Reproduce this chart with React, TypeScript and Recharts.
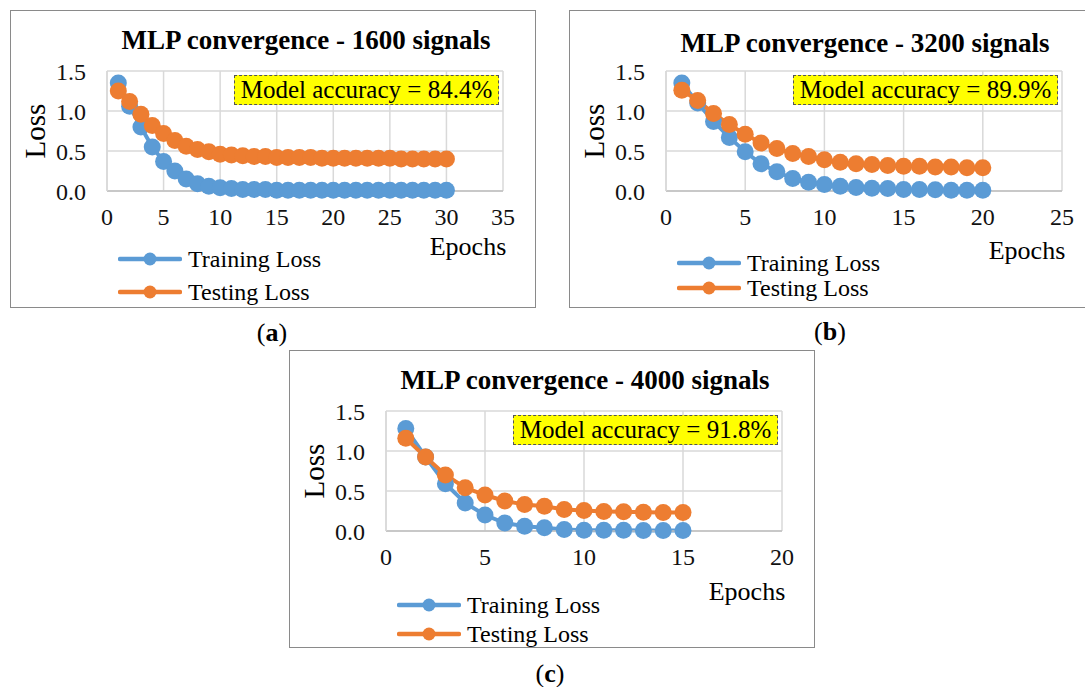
import React from "react";
import { LineChart, Line, XAxis, YAxis, CartesianGrid } from "recharts";

const FONT = '"Liberation Serif", "Times New Roman", Times, serif';
const BLUE = "#5B9BD5";
const ORANGE = "#ED7D31";

// ---- data ----
const epochsA = [1,2,3,4,5,6,7,8,9,10,11,12,13,14,15,16,17,18,19,20,21,22,23,24,25,26,27,28,29,30];
const trainA = [1.35,1.06,0.8,0.55,0.37,0.25,0.15,0.09,0.06,0.04,0.03,0.02,0.02,0.02,0.01,0.01,0.01,0.01,0.01,0.01,0.01,0.01,0.01,0.01,0.01,0.01,0.01,0.01,0.01,0.01];
const testA = [1.25,1.12,0.96,0.82,0.72,0.63,0.56,0.52,0.49,0.46,0.45,0.44,0.43,0.43,0.42,0.42,0.42,0.42,0.41,0.41,0.41,0.41,0.41,0.41,0.41,0.4,0.4,0.4,0.4,0.4];

const epochsB = [1,2,3,4,5,6,7,8,9,10,11,12,13,14,15,16,17,18,19,20];
const trainB = [1.35,1.1,0.87,0.67,0.49,0.34,0.24,0.155,0.11,0.08,0.06,0.045,0.035,0.03,0.02,0.02,0.015,0.01,0.01,0.01];
const testB = [1.26,1.13,0.97,0.83,0.71,0.6,0.53,0.47,0.43,0.39,0.36,0.34,0.33,0.32,0.31,0.31,0.3,0.3,0.29,0.29];

const epochsC = [1,2,3,4,5,6,7,8,9,10,11,12,13,14,15];
const trainC = [1.28,0.925,0.59,0.35,0.2,0.1,0.06,0.04,0.02,0.01,0.01,0.01,0.005,0.005,0.005];
const testC = [1.16,0.925,0.7,0.54,0.45,0.375,0.33,0.31,0.27,0.255,0.245,0.24,0.235,0.23,0.23];

const xTicksA = [0,5,10,15,20,25,30,35];
const xTicksB = [0,5,10,15,20,25];
const xTicksC = [0,5,10,15,20];
const yTicks = [0,0.5,1,1.5];

const titles = [
  "MLP convergence - 1600 signals",
  "MLP convergence - 3200 signals",
  "MLP convergence - 4000 signals",
];
const accuracies = ["Model accuracy = 84.4%", "Model accuracy = 89.9%", "Model accuracy = 91.8%"];
const seriesNames = ["Training Loss", "Testing Loss"];
const captions = ["a", "b", "c"];

const build = (ep: number[], tr: number[], te: number[]) =>
  ep.map((e, i) => ({ epoch: e, train: tr[i], test: te[i] }));

const PW = 526;
const PH = 298;

type PanelProps = {
  left: number;
  top: number;
  data: { epoch: number; train: number; test: number }[];
  xTicks: number[];
  title: string;
  acc: string;
  titleBase: number;
  epochsBase: number;
  legendY: [number, number];
};

const LegendIcon = ({ color }: { color: string }) => (
  <svg width={64} height={16} style={{ display: "block" }}>
    <line x1={2} y1={8} x2={62} y2={8} stroke={color} strokeWidth={4.5} strokeLinecap="round" />
    <circle cx={32} cy={8} r={6.5} fill={color} />
  </svg>
);

const Panel = (p: PanelProps) => {
  const xMax = p.xTicks[p.xTicks.length - 1];
  return (
    <div
      style={{
        position: "absolute",
        left: p.left,
        top: p.top,
        width: PW,
        height: PH,
        boxSizing: "border-box",
        border: "1.5px solid #8a8a8a",
        background: "#fff",
        fontFamily: FONT,
        color: "#000",
      }}
    >
      <div style={{ position: "absolute", left: -1.5, top: -1.5 }}>
        <LineChart
          width={PW}
          height={PH}
          data={p.data}
          margin={{ top: 61, right: 33, bottom: 87, left: 37 }}
          style={{ fontFamily: FONT }}
        >
          <CartesianGrid stroke="#D9D9D9" strokeWidth={1.5} />
          <XAxis
            dataKey="epoch"
            type="number"
            domain={[0, xMax]}
            ticks={p.xTicks}
            height={30}
            tickSize={0}
            tickMargin={17}
            axisLine={{ stroke: "#BFBFBF", strokeWidth: 1.5 }}
            tick={{ fontSize: 24, fill: "#111", fontFamily: FONT }}
            interval={0}
          />
          <YAxis
            type="number"
            domain={[0, 1.5]}
            ticks={yTicks}
            width={60}
            tickSize={0}
            tickMargin={21}
            axisLine={{ stroke: "#D9D9D9", strokeWidth: 1.5 }}
            tick={{ fontSize: 24, fill: "#111", fontFamily: FONT }}
            tickFormatter={(v: number) => v.toFixed(1)}
            interval={0}
          />
          <Line
            type="linear"
            dataKey="train"
            stroke={BLUE}
            strokeWidth={4}
            dot={{ r: 8.5, fill: BLUE, stroke: "none" }}
            isAnimationActive={false}
          />
          <Line
            type="linear"
            dataKey="test"
            stroke={ORANGE}
            strokeWidth={4}
            dot={{ r: 8.5, fill: ORANGE, stroke: "none" }}
            isAnimationActive={false}
          />
        </LineChart>
      </div>
      {/* title */}
      <div
        style={{
          position: "absolute",
          left: 295,
          top: p.titleBase - 0.8375 * 27,
          transform: "translateX(-50%)",
          fontSize: 27,
          lineHeight: "27px",
          fontWeight: "bold",
          whiteSpace: "nowrap",
        }}
      >
        {p.title}
      </div>
      {/* Loss label */}
      <div
        style={{
          position: "absolute",
          left: 24,
          top: 120,
          transform: "translate(-50%, -50%) rotate(-90deg)",
          fontSize: 29,
          lineHeight: "29px",
          whiteSpace: "nowrap",
        }}
      >
        Loss
      </div>
      {/* Epochs label */}
      <div
        style={{
          position: "absolute",
          left: 457,
          top: p.epochsBase - 0.8375 * 26,
          transform: "translateX(-50%)",
          fontSize: 26,
          lineHeight: "26px",
          whiteSpace: "nowrap",
        }}
      >
        Epochs
      </div>
      {/* accuracy box */}
      <div
        style={{
          position: "absolute",
          left: 223,
          top: 64,
          width: 265,
          height: 30,
          boxSizing: "border-box",
          background: "#FFFF00",
          border: "1px dashed #555",
          fontSize: 25,
          lineHeight: "28px",
          textAlign: "center",
          whiteSpace: "nowrap",
        }}
      >
        {p.acc}
      </div>
      {/* legend */}
      {[BLUE, ORANGE].map((c, i) => (
        <div
          key={i}
          style={{
            position: "absolute",
            left: 107,
            top: p.legendY[i] - 12,
            height: 24,
            display: "flex",
            alignItems: "center",
            whiteSpace: "nowrap",
          }}
        >
          <LegendIcon color={c} />
          <span style={{ marginLeft: 6, fontSize: 24, lineHeight: "24px" }}>{seriesNames[i]}</span>
        </div>
      ))}
    </div>
  );
};

const Caption = ({ x, y, letter }: { x: number; y: number; letter: string }) => (
  <div
    style={{
      position: "absolute",
      left: x,
      top: y,
      transform: "translate(-50%, -50%)",
      fontFamily: FONT,
      fontSize: 26,
      lineHeight: "26px",
      whiteSpace: "nowrap",
    }}
  >
    (<b>{letter}</b>)
  </div>
);

export default function App() {
  return (
    <div
      style={{
        position: "absolute",
        left: 0,
        top: 0,
        width: 1085,
        height: 687,
        overflow: "hidden",
        background: "#fff",
      }}
    >
      <Panel
        left={10}
        top={10}
        data={build(epochsA, trainA, testA)}
        xTicks={xTicksA}
        title={titles[0]}
        acc={accuracies[0]}
        titleBase={39}
        epochsBase={245}
        legendY={[248, 281]}
      />
      <Panel
        left={569}
        top={10}
        data={build(epochsB, trainB, testB)}
        xTicks={xTicksB}
        title={titles[1]}
        acc={accuracies[1]}
        titleBase={42}
        epochsBase={249}
        legendY={[252, 277]}
      />
      <Panel
        left={289}
        top={350}
        data={build(epochsC, trainC, testC)}
        xTicks={xTicksC}
        title={titles[2]}
        acc={accuracies[2]}
        titleBase={39}
        epochsBase={250}
        legendY={[254, 283]}
      />
      <Caption x={272} y={333} letter={captions[0]} />
      <Caption x={830} y={332} letter={captions[1]} />
      <Caption x={550} y={674} letter={captions[2]} />
    </div>
  );
}
